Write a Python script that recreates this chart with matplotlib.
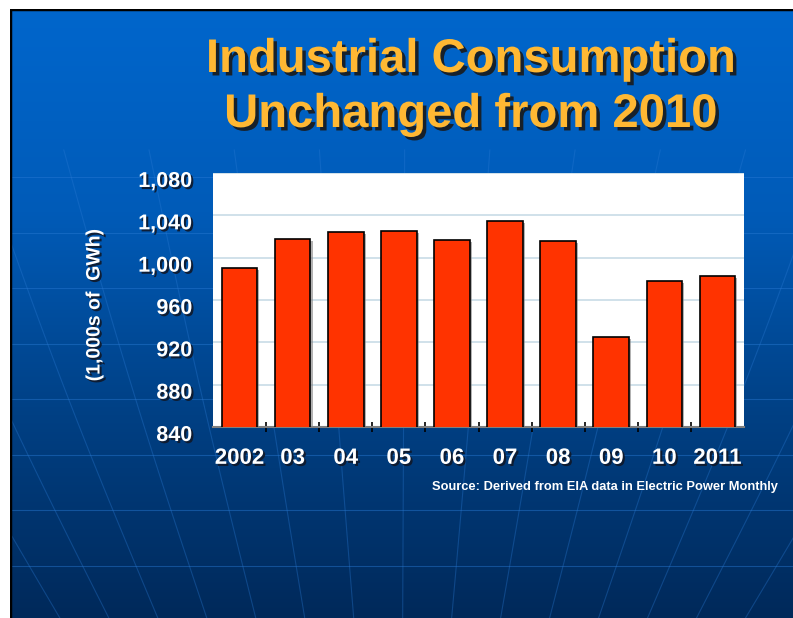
import numpy as np
import matplotlib
matplotlib.use("Agg")
import matplotlib.pyplot as plt
import matplotlib.patheffects as pe
from matplotlib.colors import LinearSegmentedColormap
from matplotlib.transforms import ScaledTranslation

# data (1,000s of GWh)
years = ["2002", "03", "04", "05", "06", "07", "08", "09", "10", "2011"]
consumption = [990, 1018, 1024, 1025, 1017, 1035, 1016, 925, 978, 983]
yticks = [840, 880, 920, 960, 1000, 1040, 1080]

plt.rcParams['font.family'] = ['Liberation Sans', 'DejaVu Sans']

fig = plt.figure(figsize=(7.93, 6.18), dpi=100)
fig.patch.set_facecolor("white")

# slide background: blue gradient with faint globe lines
bg = fig.add_axes([10 / 793, 0, 783 / 793, 609 / 618])
bg.set_xlim(10, 793)
bg.set_ylim(618, 9)
bg.axis("off")
cmap = LinearSegmentedColormap.from_list("slide", ["#0066cc", "#005bb8", "#004084", "#00295a"])
grad = np.linspace(0, 1, 256).reshape(-1, 1)
bg.imshow(grad, cmap=cmap, aspect="auto", extent=[10, 793, 618, 9], zorder=0)
for yl in np.arange(177, 618, 55.5):
    bg.axhline(yl, color="#2a7ad4", lw=0.8, alpha=0.45, zorder=1)
yy = np.linspace(150, 618, 100)
for k in range(-8, 9):
    off = 55 * k + 3
    xx = 400 + off * (1250 - yy) / (1250 - 540) + 0.02 * off * np.sin((yy - 150) / 470 * np.pi)
    bg.plot(xx, yy, color="#2a7ad4", lw=0.8, alpha=0.35, zorder=1)
bg.plot([10, 10, 793], [618, 9, 9], color="black", lw=2.5, zorder=3, solid_capstyle="butt")

shadow = [pe.withSimplePatchShadow(offset=(1.5, -1.5), shadow_rgbFace="#101828", alpha=0.9)]
title_shadow = [pe.withSimplePatchShadow(offset=(2.5, -2.5), shadow_rgbFace="#1a1a1a", alpha=0.9)]

# title
fig.text(471 / 793, 1 - 60 / 618, "Industrial Consumption", ha="center", va="center",
         fontsize=34, fontweight="bold", color="#ffb833", path_effects=title_shadow)
fig.text(471 / 793, 1 - 115 / 618, "Unchanged from 2010", ha="center", va="center",
         fontsize=34, fontweight="bold", color="#ffb833", path_effects=title_shadow)

# chart
ax = fig.add_axes([213 / 793, 1 - 427 / 618, 531 / 793, 254 / 618])
ax.set_facecolor("white")
x = np.arange(len(years))
ax.bar(x, consumption, width=0.67, color="#ff3300", edgecolor="black", linewidth=1.2, zorder=3,
       path_effects=[pe.withSimplePatchShadow(offset=(1.5, -1.5), shadow_rgbFace="#808080", alpha=0.6)])
ax.set_xlim(-0.5, len(years) - 0.5)
ax.set_ylim(840, 1080)
ax.set_yticks(yticks)
ax.set_yticklabels([f"{v:,}" for v in yticks])
ax.yaxis.grid(True, color="#c8dce6", lw=1.2, zorder=0)
ax.set_axisbelow(True)
for s in ["top", "right", "left"]:
    ax.spines[s].set_visible(False)
ax.spines["bottom"].set_color("#808080")
ax.spines["bottom"].set_linewidth(1.5)

ax.set_xticks(x)
ax.set_xticklabels(years)
ax.set_xticks(np.arange(0.5, len(years) - 1, 1.0), minor=True)
ax.tick_params(axis="x", which="major", length=0, pad=15, labelsize=16, labelcolor="white")
ax.tick_params(axis="x", which="minor", length=7, direction="inout", color="black", width=1.2)
ax.tick_params(axis="y", length=0, pad=15, labelsize=15.5, labelcolor="white")
for lab in ax.get_xticklabels() + ax.get_yticklabels():
    lab.set_fontweight("bold")
    lab.set_path_effects(shadow)
for lab in ax.get_yticklabels():
    lab.set_transform(lab.get_transform() + ScaledTranslation(0, -6 / 100, fig.dpi_scale_trans))

fig.text(95 / 793, 1 - 305 / 618, "(1,000s of  GWh)", rotation=90, ha="center", va="center",
         fontsize=14, fontweight="bold", color="white", path_effects=shadow)
fig.text(778 / 793, 1 - 487 / 618, "Source: Derived from EIA data in Electric Power Monthly",
         ha="right", va="center", fontsize=9.3, fontweight="bold", color="white")

fig.savefig("out.png", dpi=100)
